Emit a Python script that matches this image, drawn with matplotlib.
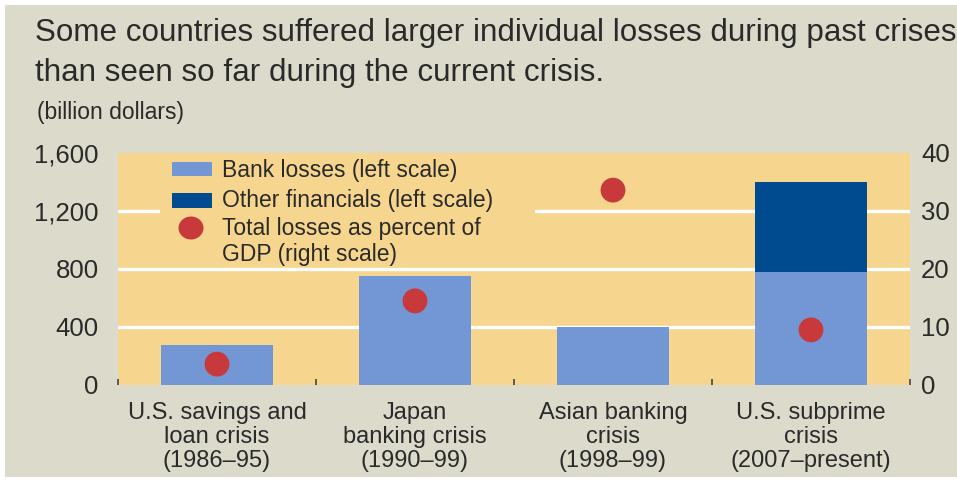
import matplotlib
matplotlib.use("Agg")
import matplotlib.pyplot as plt
from matplotlib.patches import Rectangle, Ellipse
import numpy as np

categories = ["U.S. savings and\nloan crisis\n(1986\u201395)",
              "Japan\nbanking crisis\n(1990\u201399)",
              "Asian banking\ncrisis\n(1998\u201399)",
              "U.S. subprime\ncrisis\n(2007\u2013present)"]
bank_losses = [275, 750, 400, 780]
other_financials = [0, 0, 0, 620]
pct_gdp = [3.6, 14.5, 33.6, 9.5]
left_ticks = [0, 400, 800, 1200, 1600]
left_labels = ["0", "400", "800", "1,200", "1,600"]
right_ticks = [0, 10, 20, 30, 40]
legend_labels = ["Bank losses (left scale)", "Other financials (left scale)",
                 "Total losses as percent of", "GDP (right scale)"]

plt.rcParams['font.family'] = ['Liberation Sans', 'DejaVu Sans']

GRAY = '#dcdacb'
ORANGE = '#f6d68f'
LIGHT = '#7297d4'
DARK = '#004a8f'
RED = '#c8393b'
TXT = '#2a2a2a'

W, H = 957, 483
fig = plt.figure(figsize=(9.57, 4.83), dpi=100, facecolor='white')
fig.patches.append(Rectangle((5/W, 6/H), 1, 1 - 11/H, transform=fig.transFigure,
                             facecolor=GRAY, edgecolor='none', zorder=-10))

ax = fig.add_axes([118/W, 1 - 385/H, (910 - 118)/W, (385 - 153)/H])
ax.set_facecolor('none')
ax.add_patch(Rectangle((113/W, 1 - 388/H), (915 - 113)/W, (388 - 150)/H,
                       transform=fig.transFigure, facecolor=ORANGE, edgecolor='none',
                       zorder=-5))
x = np.arange(len(categories))
ax.set_xlim(-0.5, 3.5)
ax.set_ylim(0, 1600)
for s in ax.spines.values():
    s.set_visible(False)
for t in left_ticks[1:-1]:
    ax.axhline(t, color='white', lw=2.4, zorder=1)
ax.bar(x, bank_losses, width=0.565, color=LIGHT, zorder=2)
ax.bar(x, other_financials, width=0.565, bottom=bank_losses, color=DARK, zorder=2)
ax.set_yticks(left_ticks)
ax.set_yticklabels(left_labels)
ax.tick_params(axis='y', length=0, labelsize=18.5, labelcolor=TXT, pad=14)
ax.set_xticks(x)
ax.set_xticklabels(categories, linespacing=1.12)
ax.tick_params(axis='x', length=0, labelsize=17, labelcolor=TXT, pad=12)
ax.set_xticks(np.arange(-0.5, 4, 1), minor=True)
ax.tick_params(axis='x', which='minor', direction='in', length=4, width=1.2, color='#444444')

# legend block (manual, background hides gridline)
ax.add_patch(Rectangle((160/W, 1 - 266/H), (535 - 160)/W, (266 - 155)/H,
                       transform=fig.transFigure, facecolor=ORANGE, edgecolor='none',
                       zorder=1.5))
ax.add_patch(Rectangle((172/W, 1 - 176/H), 40/W, 14/H, transform=fig.transFigure,
                       facecolor=LIGHT, edgecolor='none', zorder=3))
ax.add_patch(Rectangle((172/W, 1 - 208/H), 40/W, 15/H, transform=fig.transFigure,
                       facecolor=DARK, edgecolor='none', zorder=3))
ax.add_patch(Ellipse((191/W, 1 - 228/H), 25/W, 23/H, transform=fig.transFigure,
                     facecolor=RED, edgecolor='none', zorder=3))
for lab, yy in zip(legend_labels, [170, 200, 228, 254]):
    fig.text(222/W, 1 - yy/H, lab, fontsize=16.5, color=TXT, va='center', ha='left')

ax2 = ax.twinx()
ax2.set_ylim(0, 40)
for s in ax2.spines.values():
    s.set_visible(False)
ax2.scatter(x, pct_gdp, s=320, color=RED, zorder=5, edgecolors='none')
ax2.set_yticks(right_ticks)
ax2.tick_params(axis='y', length=0, labelsize=18.5, labelcolor=TXT, pad=8)

fig.text(35/W, 1 - 33/H, "Some countries suffered larger individual losses during past crises",
         fontsize=22.6, color=TXT, va='center', ha='left')
fig.text(35/W, 1 - 73/H, "than seen so far during the current crisis.",
         fontsize=22.6, color=TXT, va='center', ha='left')
fig.text(37/W, 1 - 113/H, "(billion dollars)", fontsize=16.5, color=TXT,
         va='center', ha='left')

fig.savefig("out.png", dpi=100, facecolor=fig.get_facecolor())
